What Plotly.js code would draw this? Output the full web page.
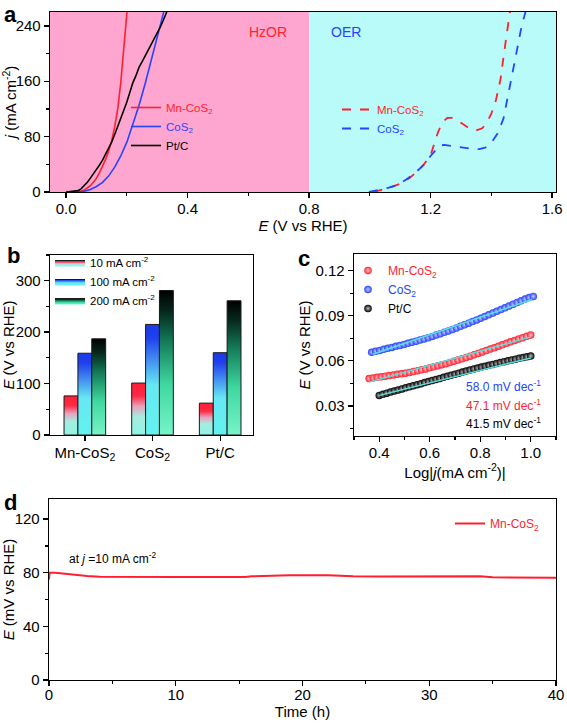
<!DOCTYPE html>
<html><head><meta charset="utf-8">
<script src="https://cdn.plot.ly/plotly-3.0.1.min.js"></script>
<style>html,body{margin:0;padding:0;background:#fff}#chart{width:567px;height:723px}</style>
</head><body><div id="chart"></div>
<script>
// ---------- DATA ----------
// Panel a: HzOR polarization curves (E vs RHE, j in mA cm-2)
const hzMnX = [0.02,0.04,0.05,0.06,0.07,0.08,0.09,0.10,0.11,0.12,0.13,0.14,0.15,0.16,0.17,0.18,0.19,0.20,0.202];
const hzMnY = [0,0.5,1.5,3,5.5,9,14,20,28,37,47,59,74,94,120,158,205,258,268];
const hzCoX = [0.04,0.06,0.08,0.10,0.12,0.14,0.16,0.18,0.20,0.22,0.24,0.26,0.28,0.30,0.32,0.325];
const hzCoY = [0,1,3.5,8,14,23,36,52,72,97,125,156,190,225,258,266];
const hzPtX = [0.00,0.01,0.02,0.03,0.04,0.05,0.06,0.07,0.08,0.09,0.10,0.11,0.12,0.13,0.14,0.15,0.16,0.17,0.18,0.19,0.20,0.21,0.22,0.23,0.24,0.25,0.26,0.27,0.28,0.29,0.30,0.31,0.32,0.33,0.335];
const hzPtY = [0,0.3,0.6,1,2,5,9,14,20,26,32,39,46,54,62,72,83,94,105,118,130,144,158,168,180,188,196,205,214,222,229,238,248,257,264];
// Panel a: OER curves
const oerMnX = [1.012,1.04,1.07,1.10,1.13,1.16,1.18,1.20,1.21,1.225,1.24,1.255,1.27,1.29,1.31,1.33,1.35,1.37,1.385,1.40,1.415,1.43,1.445,1.46,1.465];
const oerMnY = [0,3,7,12,20,31,41,53,66,87,101,107,107,103,97,91,89,92,100,113,132,162,210,258,272];
const oerCoX = [0.997,1.03,1.06,1.09,1.12,1.15,1.18,1.20,1.215,1.23,1.245,1.26,1.28,1.31,1.34,1.36,1.38,1.40,1.42,1.44,1.46,1.48,1.50,1.515,1.52];
const oerCoY = [0,3,6,10,18,28,40,52,60,67,68,67,66,64,62,62,64,71,84,106,148,195,240,262,272];
const regionSplit = 0.8;
const rangeA = [-0.053, 1.613];

// Panel b: potentials at current densities
const barCats = ['Mn-CoS<sub>2</sub>','CoS<sub>2</sub>','Pt/C'];
const barSeriesNames = ['10 mA cm<sup>-2</sup>','100 mA cm<sup>-2</sup>','200 mA cm<sup>-2</sup>'];
const bar10 = [76, 101, 62];
const bar100 = [159, 215, 160];
const bar200 = [187, 281, 261];

// Panel c: Tafel plots
const tafMnX = [0.360,0.376,0.392,0.408,0.424,0.440,0.456,0.472,0.488,0.504,0.520,0.536,0.552,0.568,0.584,0.600,0.616,0.632,0.648,0.664,0.680,0.696,0.712,0.728,0.744,0.760,0.776,0.792,0.808,0.824,0.840,0.856,0.872,0.888,0.904,0.920,0.936,0.952,0.968,0.984,1.000];
const tafMnY = [0.0482,0.0486,0.0490,0.0494,0.0498,0.0502,0.0506,0.0510,0.0514,0.0518,0.0523,0.0528,0.0534,0.0540,0.0546,0.0553,0.0560,0.0567,0.0574,0.0581,0.0589,0.0597,0.0605,0.0613,0.0622,0.0631,0.0640,0.0649,0.0659,0.0668,0.0678,0.0687,0.0697,0.0706,0.0716,0.0726,0.0735,0.0745,0.0754,0.0763,0.0772];
const tafCoX = [0.370,0.386,0.402,0.418,0.434,0.450,0.466,0.482,0.498,0.514,0.530,0.546,0.562,0.578,0.594,0.610,0.626,0.642,0.658,0.674,0.690,0.706,0.722,0.738,0.754,0.770,0.786,0.802,0.818,0.834,0.850,0.866,0.882,0.898,0.914,0.930,0.946,0.962,0.978,0.994,1.010];
const tafCoY = [0.0657,0.0663,0.0669,0.0676,0.0683,0.0689,0.0696,0.0702,0.0709,0.0716,0.0723,0.0730,0.0738,0.0745,0.0753,0.0762,0.0771,0.0780,0.0789,0.0798,0.0808,0.0818,0.0829,0.0839,0.0850,0.0861,0.0872,0.0883,0.0895,0.0906,0.0918,0.0929,0.0941,0.0952,0.0964,0.0976,0.0988,0.0999,0.1010,0.1020,0.1028];
const tafPtX = [0.400,0.415,0.430,0.445,0.460,0.475,0.490,0.505,0.520,0.535,0.550,0.565,0.580,0.595,0.610,0.625,0.640,0.655,0.670,0.685,0.700,0.715,0.730,0.745,0.760,0.775,0.790,0.805,0.820,0.835,0.850,0.865,0.880,0.895,0.910,0.925,0.940,0.955,0.970,0.985,1.000];
const tafPtY = [0.0370,0.0377,0.0385,0.0392,0.0399,0.0406,0.0413,0.0420,0.0427,0.0434,0.0441,0.0448,0.0455,0.0462,0.0469,0.0476,0.0483,0.0490,0.0497,0.0504,0.0511,0.0518,0.0525,0.0532,0.0539,0.0546,0.0552,0.0558,0.0564,0.0570,0.0576,0.0582,0.0588,0.0594,0.0600,0.0606,0.0611,0.0617,0.0622,0.0627,0.0632];
const fitCoX = [0.375, 1.005], fitCoY = [0.0643, 0.1008];
const fitMnX = [0.360, 1.000], fitMnY = [0.0458, 0.0759];
const fitPtX = [0.400, 1.000], fitPtY = [0.0370, 0.0619];
const tafelSlopes = ['58.0 mV dec<sup>-1</sup>','47.1 mV dec<sup>-1</sup>','41.5 mV dec<sup>-1</sup>'];

// Panel d: chronopotentiometry
const stabT = [0,0.05,0.5,1,2,3,4,6,8,10,12,14,15,15.5,16,17,18,19,20,21,22,23,24,26,28,30,32,34,35,36,38,40];
const stabE = [75,80,80,79.5,78.4,77.5,77.1,76.9,76.9,76.9,76.9,76.8,76.6,76.9,77.3,77.7,77.9,78.1,78.2,78.3,78.2,77.8,77.4,77.2,77.2,77.3,77.4,77.4,76.6,76.5,76.4,76.3];

// ---------- LAYOUT HELPERS ----------
const W = 567, H = 723, L = 49, R = 11, T = 12, B = 43;
const PW = W - L - R, PH = H - T - B;
const X = p => (p - L) / PW;
const Y = p => 1 - (p - T) / PH;
const dx = (a, b) => [Math.max(0, X(a)), Math.min(1, X(b))];
const dy = (top, bot) => [Math.max(0, Y(bot)), Math.min(1, Y(top))];

const RED = '#ff1f2f', BLUE = '#2744ff', BLK = '#000000';
const FONT = 'Arial, "Liberation Sans", sans-serif';
const col = (c, t) => '<span style="color:' + c + '">' + t + '</span>';

function ax(extra) {
  return Object.assign({
    showline: true, linecolor: '#000', linewidth: 1.3, mirror: true,
    ticks: 'outside', ticklen: 5, tickwidth: 1.3, tickcolor: '#000',
    showgrid: false, zeroline: false, fixedrange: true,
    tickfont: {family: FONT, size: 15, color: '#000'}
  }, extra);
}
function minor(d) { return {ticks: 'outside', ticklen: 3, tickwidth: 1.2, tickcolor: '#000', dtick: d, showgrid: false}; }
const ttl = (t, so) => {
  const o = {text: t, font: {family: FONT, size: 15, color: '#000'}};
  if (so !== undefined) o.standoff = so;
  return o;
};

const traces = [];
// Panel a
traces.push({x: hzMnX, y: hzMnY, xaxis: 'x', yaxis: 'y', mode: 'lines', line: {color: RED, width: 1.6}, name: col(RED, 'Mn-CoS<sub>2</sub>'), legend: 'legend', legendgroup: 'a1'});
traces.push({x: hzCoX, y: hzCoY, xaxis: 'x', yaxis: 'y', mode: 'lines', line: {color: BLUE, width: 1.6}, name: col(BLUE, 'CoS<sub>2</sub>'), legend: 'legend', legendgroup: 'a2'});
traces.push({x: hzPtX, y: hzPtY, xaxis: 'x', yaxis: 'y', mode: 'lines', line: {color: BLK, width: 1.6}, name: col(BLK, 'Pt/C'), legend: 'legend', legendgroup: 'a3'});
traces.push({x: oerMnX, y: oerMnY, xaxis: 'x', yaxis: 'y', mode: 'lines', line: {color: RED, width: 1.8, dash: 'dash'}, name: col(RED, 'Mn-CoS<sub>2</sub>'), legend: 'legend2', legendgroup: 'b1'});
traces.push({x: oerCoX, y: oerCoY, xaxis: 'x', yaxis: 'y', mode: 'lines', line: {color: BLUE, width: 1.8, dash: 'dash'}, name: col(BLUE, 'CoS<sub>2</sub>'), legend: 'legend2', legendgroup: 'b2'});

// Panel b : gradient bars built from the bar arrays
const barVals = [bar10, bar100, bar200];
const barScales = [
  [[0, '#8ef5e4'], [0.35, '#a6ece0'], [0.55, '#e8a2bc'], [0.75, '#ff2a45'], [1, '#ff1f35']],
  [[0, '#62f2ee'], [0.45, '#66e8f4'], [0.7, '#3f86f0'], [0.88, '#1f40ee'], [1, '#1b3ae8']],
  [[0, '#78f4c8'], [0.35, '#3fd8a0'], [0.65, '#137a58'], [0.85, '#062a1e'], [1, '#000000']]
];
const BW = 0.205;
barVals.forEach((vals, s) => {
  vals.forEach((v, c) => {
    const xc = c + (s - 1) * BW;
    traces.push({
      x: [xc - BW / 2, xc - BW / 2, xc + BW / 2, xc + BW / 2, xc - BW / 2],
      y: [0, v, v, 0, 0],
      xaxis: 'x2', yaxis: 'y2', mode: 'lines', fill: 'toself',
      fillgradient: {type: 'vertical', colorscale: barScales[s]},
      line: {color: '#1a1a1a', width: 1},
      name: barSeriesNames[s], legend: 'legend3', legendgroup: 'g' + s, showlegend: c === 0,
      hoverinfo: 'y'
    });
  });
});

// Panel c
const sphere = (c, hi) => ({size: 7.5, color: c, gradient: {type: 'radial', color: hi}, line: {width: 0}});
traces.push({x: tafMnX, y: tafMnY, xaxis: 'x3', yaxis: 'y3', mode: 'markers', marker: sphere(RED, '#ffc8cc'), name: col(RED, 'Mn-CoS<sub>2</sub>'), legend: 'legend4', legendgroup: 'c1'});
traces.push({x: tafCoX, y: tafCoY, xaxis: 'x3', yaxis: 'y3', mode: 'markers', marker: sphere(BLUE, '#c4ccff'), name: col(BLUE, 'CoS<sub>2</sub>'), legend: 'legend4', legendgroup: 'c2'});
traces.push({x: tafPtX, y: tafPtY, xaxis: 'x3', yaxis: 'y3', mode: 'markers', marker: sphere('#000', '#bbbbbb'), name: col(BLK, 'Pt/C'), legend: 'legend4', legendgroup: 'c3'});
[[fitCoX, fitCoY], [fitMnX, fitMnY], [fitPtX, fitPtY]].forEach(f => {
  traces.push({x: f[0], y: f[1], xaxis: 'x3', yaxis: 'y3', mode: 'lines', line: {color: '#55e2e0', width: 1.5}, showlegend: false, hoverinfo: 'skip'});
});

// Panel d
traces.push({x: stabT, y: stabE, xaxis: 'x4', yaxis: 'y4', mode: 'lines', line: {color: RED, width: 2}, name: col(RED, 'Mn-CoS<sub>2</sub>'), legend: 'legend5'});

const legBase = {bgcolor: 'rgba(0,0,0,0)', borderwidth: 0, xanchor: 'left', yanchor: 'top', itemwidth: 30, tracegroupgap: 0, traceorder: 'grouped', itemclick: false, itemdoubleclick: false};

const layout = {
  width: W, height: H, margin: {l: L, r: R, t: T, b: B},
  paper_bgcolor: '#fff', plot_bgcolor: 'rgba(0,0,0,0)',
  font: {family: FONT, color: '#000'},
  showlegend: true,
  xaxis: ax({domain: dx(50, 556), anchor: 'y', range: rangeA, tick0: 0, dtick: 0.4, tickformat: '.1f', minor: minor(0.2), ticklabelstandoff: -2, title: ttl('<i>E</i> (V vs RHE)', 3)}),
  yaxis: ax({domain: dy(12, 192), anchor: 'x', range: [0, 260], tick0: 0, dtick: 80, minor: minor(40), title: ttl('<i>j</i> (mA cm<sup>-2</sup>)')}),
  xaxis2: ax({domain: dx(50, 253), anchor: 'y2', range: [-0.515, 2.485], tickvals: [0, 1, 2], ticktext: barCats, ticklabelstandoff: -1}),
  yaxis2: ax({domain: dy(255, 435), anchor: 'x2', range: [0, 350], tick0: 0, dtick: 100, minor: minor(50), title: ttl('<i>E</i> (V vs RHE)')}),
  xaxis3: ax({domain: dx(354, 556), anchor: 'y3', range: [0.3, 1.1], tick0: 0, dtick: 0.2, tickformat: '.1f', minor: minor(0.1), ticklabelstandoff: -2, title: ttl('Log|<i>j</i>(mA cm<sup>-2</sup>)|', 4)}),
  yaxis3: ax({domain: dy(254, 436), anchor: 'x3', range: [0.01, 0.131], tick0: 0, dtick: 0.03, tickformat: '.2f', minor: minor(0.015), title: ttl('<i>E</i> (V vs RHE)')}),
  xaxis4: ax({domain: dx(49, 556), anchor: 'y4', range: [0, 40], tick0: 0, dtick: 10, minor: minor(5), ticklabelstandoff: -4, title: ttl('Time (h)', 3)}),
  yaxis4: ax({domain: dy(499, 680), anchor: 'x4', range: [0, 135], tick0: 0, dtick: 40, minor: minor(20), title: ttl('<i>E</i> (mV vs RHE)')}),
  shapes: [
    {type: 'rect', xref: 'x', yref: 'y domain', x0: rangeA[0], x1: regionSplit, y0: 0, y1: 1, fillcolor: '#ffa6d0', line: {width: 0}, layer: 'below'},
    {type: 'rect', xref: 'x', yref: 'y domain', x0: regionSplit, x1: rangeA[1], y0: 0, y1: 1, fillcolor: '#b8fbf8', line: {width: 0}, layer: 'below'}
  ],
  legend: Object.assign({}, legBase, {x: X(126), y: Y(93), font: {family: FONT, size: 11.5}}),
  legend2: Object.assign({}, legBase, {x: X(337), y: Y(95), font: {family: FONT, size: 11.5}}),
  legend3: Object.assign({}, legBase, {x: X(50), y: Y(248), font: {family: FONT, size: 11.5, color: '#000'}}),
  legend4: Object.assign({}, legBase, {x: X(348), y: Y(256), font: {family: FONT, size: 12}}),
  legend5: Object.assign({}, legBase, {x: X(450), y: Y(509), font: {family: FONT, size: 12}}),
  annotations: [
    {text: '<b>a</b>', xref: 'paper', yref: 'paper', x: X(2), y: Y(0), xanchor: 'left', yanchor: 'top', showarrow: false, font: {family: FONT, size: 22}},
    {text: '<b>b</b>', xref: 'paper', yref: 'paper', x: X(5), y: Y(241), xanchor: 'left', yanchor: 'top', showarrow: false, font: {family: FONT, size: 22}},
    {text: '<b>c</b>', xref: 'paper', yref: 'paper', x: X(296), y: Y(244), xanchor: 'left', yanchor: 'top', showarrow: false, font: {family: FONT, size: 22}},
    {text: '<b>d</b>', xref: 'paper', yref: 'paper', x: X(2), y: Y(488), xanchor: 'left', yanchor: 'top', showarrow: false, font: {family: FONT, size: 22}},
    {text: 'HzOR', xref: 'paper', yref: 'paper', x: X(268), y: Y(32), xanchor: 'center', yanchor: 'middle', showarrow: false, font: {family: FONT, size: 14, color: RED}},
    {text: 'OER', xref: 'paper', yref: 'paper', x: X(346), y: Y(32), xanchor: 'center', yanchor: 'middle', showarrow: false, font: {family: FONT, size: 14, color: BLUE}},
    {text: tafelSlopes[0], xref: 'paper', yref: 'paper', x: X(543), y: Y(386), xanchor: 'right', yanchor: 'middle', showarrow: false, font: {family: FONT, size: 12, color: BLUE}},
    {text: tafelSlopes[1], xref: 'paper', yref: 'paper', x: X(543), y: Y(405), xanchor: 'right', yanchor: 'middle', showarrow: false, font: {family: FONT, size: 12, color: RED}},
    {text: tafelSlopes[2], xref: 'paper', yref: 'paper', x: X(543), y: Y(423), xanchor: 'right', yanchor: 'middle', showarrow: false, font: {family: FONT, size: 12, color: BLK}},
    {text: 'at <i>j</i> =10 mA cm<sup>-2</sup>', xref: 'paper', yref: 'paper', x: X(67), y: Y(558), xanchor: 'left', yanchor: 'middle', showarrow: false, font: {family: FONT, size: 12, color: '#000'}}
  ]
};

Plotly.newPlot('chart', traces, layout, {staticPlot: true, displayModeBar: false});
</script>
</body></html>
